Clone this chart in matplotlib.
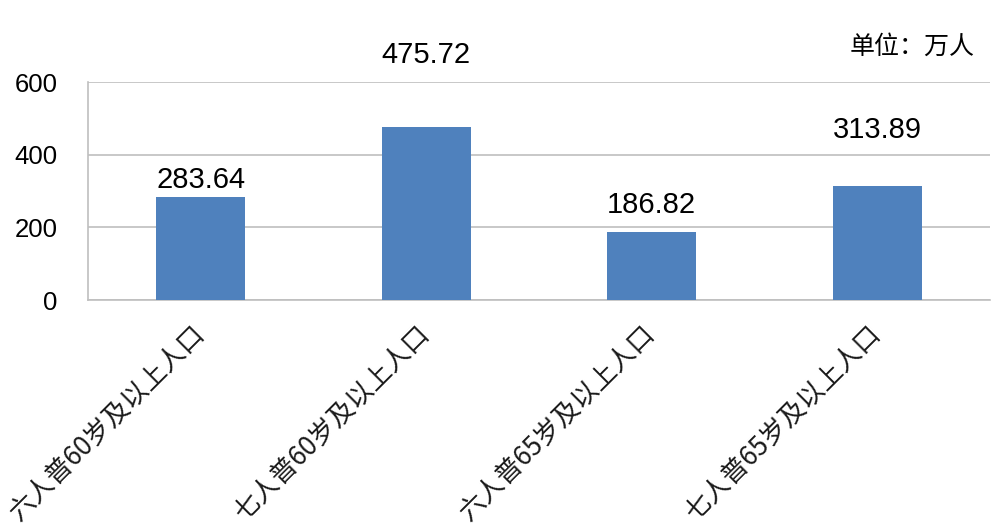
import matplotlib.pyplot as plt
import matplotlib.transforms as mtransforms

categories = ['六人普60岁及以上人口', '七人普60岁及以上人口', '六人普65岁及以上人口', '七人普65岁及以上人口']
values = [283.64, 475.72, 186.82, 313.89]
yticks = [0, 200, 400, 600]
# 数值标签离柱顶的距离（像素，按原图量出来的）
label_offsets = [17, 72, 27, 56]

plt.rcParams['font.family'] = ['Liberation Sans', 'Noto Sans CJK SC', 'DejaVu Sans']

fig = plt.figure(figsize=(10, 5.31), dpi=100)
ax = fig.add_axes([0.088, 0.435, 0.902, 0.4105])

x = range(len(categories))
ax.bar(x, values, width=0.395, color='#4F81BD', zorder=3)

for i, v in enumerate(values):
    ax.annotate('%.2f' % v, xy=(i, v), xytext=(0, label_offsets[i] * 0.72),
                textcoords='offset points', ha='center', va='center',
                fontsize=21, color='black')

ax.set_xlim(-0.5, len(categories) - 0.5)
ax.set_ylim(0, 600)
ax.set_yticks(yticks)
ax.set_yticklabels([str(t) for t in yticks], fontsize=18.5)
ax.tick_params(axis='y', length=0, pad=22)
ax.set_xticks(list(x))
ax.set_xticklabels(categories, rotation=45, ha='right', fontsize=18.8,
                   family=['Noto Sans CJK SC', 'DejaVu Sans'], color='#1a1a1a')
ax.tick_params(axis='x', length=0, pad=14)
# 标签整体往右挪一点
shift = mtransforms.ScaledTranslation(9 / 100, 0, fig.dpi_scale_trans)
for lab in ax.get_xticklabels():
    lab.set_transform(lab.get_transform() + shift)

ax.grid(axis='y', color='#BFBFBF', linewidth=1.2, zorder=0)
for side in ['top', 'right']:
    ax.spines[side].set_visible(False)
for side in ['left', 'bottom']:
    ax.spines[side].set_color('#BFBFBF')
    ax.spines[side].set_linewidth(1.2)

fig.text(0.975, 0.912, '单位：万人', ha='right', va='center', fontsize=18,
         family=['Noto Sans CJK SC', 'DejaVu Sans'])

plt.savefig('out.png', dpi=100)
